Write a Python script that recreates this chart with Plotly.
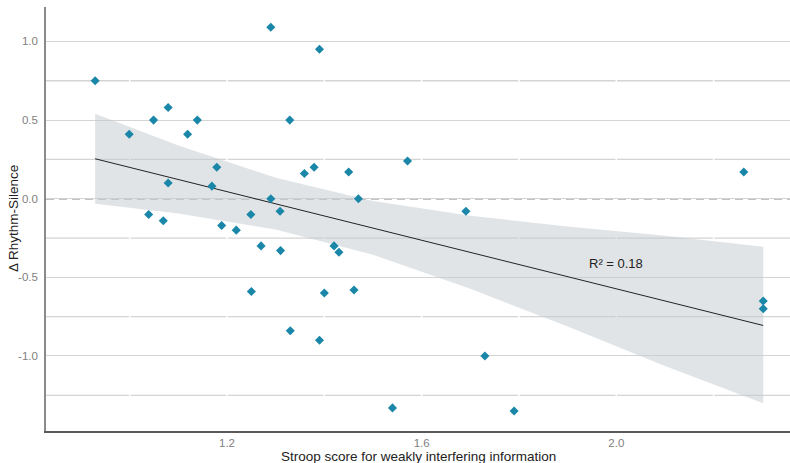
import plotly.graph_objects as go

# Scatter data: Stroop score (x) vs Δ Rhythm-Silence (y)
stroop = [0.929, 0.999, 1.049, 1.079, 1.119, 1.139, 1.290, 1.390, 1.329, 1.179,
          1.079, 1.169, 1.359, 1.379, 1.450, 1.470, 1.290, 1.309, 1.039, 1.069,
          1.189, 1.219, 1.249, 1.270, 1.310, 1.420, 1.430, 1.250, 1.400, 1.461,
          1.330, 1.390, 1.540, 1.730, 1.790, 2.302, 2.302, 1.571, 1.691, 2.262]
delta = [0.75, 0.41, 0.50, 0.58, 0.41, 0.50, 1.09, 0.95, 0.50, 0.20,
         0.10, 0.08, 0.16, 0.20, 0.17, 0.00, 0.00, -0.08, -0.10, -0.14,
         -0.17, -0.20, -0.10, -0.30, -0.33, -0.30, -0.34, -0.59, -0.60, -0.58,
         -0.84, -0.90, -1.33, -1.00, -1.35, -0.65, -0.70, 0.24, -0.08, 0.17]

# Fitted line and confidence band
fit_x = [0.929, 1.1, 1.3, 1.5, 1.7, 1.9, 2.1, 2.302]
fit_y = [0.254, 0.122, -0.032, -0.187, -0.341, -0.495, -0.650, -0.806]
ci_upper = [0.540, 0.339, 0.133, -0.015, -0.108, -0.177, -0.236, -0.305]
ci_lower = [-0.032, -0.094, -0.196, -0.357, -0.573, -0.813, -1.063, -1.301]

y_ticks = [-1.0, -0.5, 0.0, 0.5, 1.0]
y_minor = [-1.25, -0.75, -0.25, 0.25, 0.75]
x_ticks = [1.2, 1.6, 2.0]
x_white = [1.0, 1.2, 1.4, 1.6, 1.8, 2.0, 2.2]
r2_label = "R² = 0.18"
x_title = "Stroop score for weakly interfering information"
y_title = "Δ Rhythm-Silence"

fig = go.Figure()

fig.add_trace(go.Scatter(
    x=fit_x + fit_x[::-1], y=ci_upper + ci_lower[::-1],
    fill="toself", fillcolor="rgba(195,201,205,0.5)",
    line=dict(width=0), mode="lines", hoverinfo="skip", showlegend=False))

fig.add_trace(go.Scatter(
    x=fit_x, y=fit_y, mode="lines",
    line=dict(color="#222222", width=1), showlegend=False))

fig.add_trace(go.Scatter(
    x=stroop, y=delta, mode="markers",
    marker=dict(symbol="diamond", size=7, color="#1a87a8"),
    showlegend=False))

shapes = []
for v in y_minor:
    shapes.append(dict(type="line", xref="paper", x0=0, x1=1, yref="y", y0=v, y1=v,
                       line=dict(color="#d4d4d4", width=1.3), layer="below"))
for v in x_white:
    shapes.append(dict(type="line", xref="x", x0=v, x1=v, yref="paper", y0=0, y1=1,
                       line=dict(color="white", width=1.5), layer="between"))
shapes.append(dict(type="line", xref="paper", x0=0, x1=1, yref="y", y0=0, y1=0,
                   line=dict(color="#858585", width=1.5, dash="8px,5px"), layer="between"))
fig.update_layout(shapes=shapes)

fig.add_annotation(x=2.0, y=-0.41, text=r2_label, showarrow=False,
                   font=dict(family="Liberation Sans, Arial", size=13, color="#222222"))
fig.add_annotation(xref="paper", yref="paper", x=0.5, y=0, yshift=-25, yanchor="middle",
                   text=x_title, showarrow=False,
                   font=dict(family="Liberation Sans, Arial", size=13.5, color="#222222"))
fig.add_annotation(xref="paper", yref="paper", x=0, xshift=-33, y=0.5, xanchor="center",
                   text=y_title, textangle=-90, showarrow=False,
                   font=dict(family="Liberation Sans, Arial", size=13.5, color="#222222"))

fig.update_layout(
    width=790, height=463,
    margin=dict(l=46, r=0, t=7, b=32, autoexpand=False),
    paper_bgcolor="white", plot_bgcolor="white",
    font=dict(family="Liberation Sans, Arial", color="#333333"),
    xaxis=dict(range=[0.828, 2.357], tickvals=x_ticks, ticktext=[f"{v:.1f}" for v in x_ticks],
               showgrid=False, zeroline=False, showline=True, linecolor="#5a5a5a", linewidth=1.5,
               ticks="", ticklen=0, tickfont=dict(size=11.5, color="#808080"), automargin=False),
    yaxis=dict(range=[-1.477, 1.219], tickvals=y_ticks, ticktext=[f"{v:.1f}" for v in y_ticks],
               showgrid=True, gridcolor="#d4d4d4", gridwidth=1.3, zeroline=False,
               showline=True, linecolor="#8a8a8a", linewidth=1.5, ticklabelstandoff=4,
               ticks="", tickfont=dict(size=11.5, color="#808080"), automargin=False),
)

fig.write_html("out.html", config={"displayModeBar": False},
               post_script="document.body.style.margin='0';document.body.style.overflow='hidden';")
